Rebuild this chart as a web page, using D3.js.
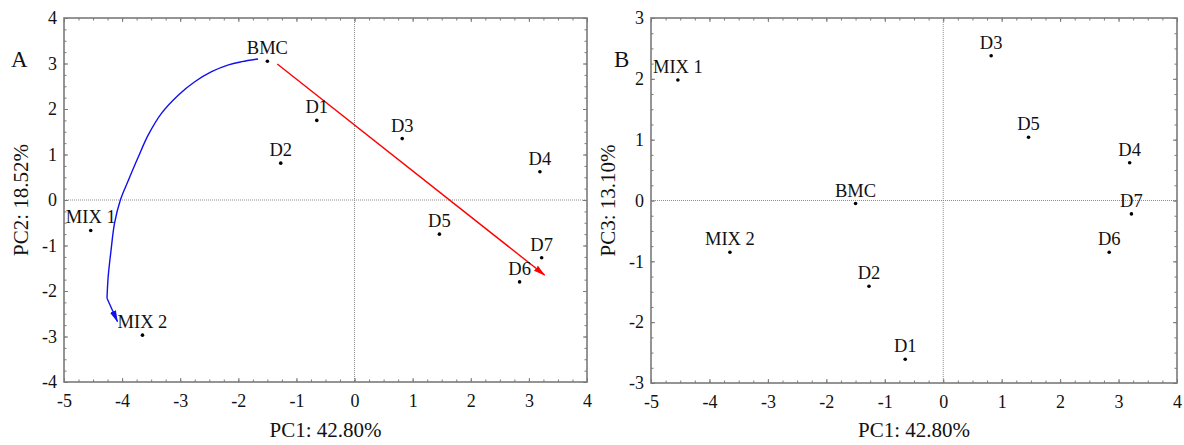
<!DOCTYPE html>
<html>
<head>
<meta charset="utf-8">
<script src="https://cdn.jsdelivr.net/npm/d3@7"></script>
<style>
  body { margin: 0; background: #fff; }
  svg { display: block; font-family: "Liberation Serif", "Times New Roman", serif; }
</style>
</head>
<body>
<script>
// sample names and principal component scores
var names = ["BMC", "D1", "D2", "D3", "D4", "D5", "D6", "D7", "MIX 1", "MIX 2"];
var pc1 = [-1.50, -0.65, -1.27, 0.82, 3.19, 1.46, 2.84, 3.22, -4.54, -3.65];
var pc2 = [3.05, 1.75, 0.81, 1.35, 0.62, -0.75, -1.80, -1.27, -0.67, -2.97];
var pc3 = [-0.05, -2.61, -1.41, 2.38, 0.62, 1.04, -0.85, -0.22, 1.98, -0.85];

// arrows drawn on panel A (in PC1/PC2 units)
var redArrow = [[-1.33, 2.99], [3.27, -1.65]];
var blueCurve = [[-1.66, 3.10], [-1.94, 3.04], [-2.17, 2.97], [-2.46, 2.82], [-2.75, 2.60],
                 [-3.03, 2.31], [-3.32, 1.91], [-3.55, 1.43], [-3.72, 0.95], [-3.89, 0.44],
                 [-4.03, 0.00], [-4.13, -0.51], [-4.19, -1.10], [-4.24, -1.69], [-4.26, -2.16]];
var blueHead = [[-4.26, -2.16], [-4.08, -2.67]];

var xTicks = [-5, -4, -3, -2, -1, 0, 1, 2, 3, 4];
var yTicksA = [-4, -3, -2, -1, 0, 1, 2, 3, 4];
var yTicksB = [-3, -2, -1, 0, 1, 2, 3];

var svg = d3.select("body")
            .append("svg")
            .attr("width", 1184)
            .attr("height", 445);

var defs = svg.append("defs");
function addMarker(id, color){
    defs.append("marker")
        .attr("id", id)
        .attr("viewBox", "0 0 12 8")
        .attr("refX", 11)
        .attr("refY", 4)
        .attr("markerUnits", "userSpaceOnUse")
        .attr("markerWidth", 12)
        .attr("markerHeight", 8)
        .attr("orient", "auto")
        .append("path")
        .attr("d", "M0,0.8 L12,4 L0,7.2 Z")
        .attr("fill", color);
}
addMarker("headRed", "#ff0000");
addMarker("headBlue", "#1010ee");

var frameColor = "#7a7a7a";
var fmt = function(d){ return String(d); };

//draws one scatter panel and returns its scales
function panel(opt){
    var w = opt.right - opt.left;
    var h = opt.bottom - opt.top;

    var x = d3.scaleLinear().domain([-5, 4]).range([0, w]);
    var y = d3.scaleLinear().domain(opt.yDomain).range([h, 0]);

    var g = svg.append("g")
               .attr("transform", "translate(" + opt.left + "," + opt.top + ")");

    //zero lines
    g.append("line")
     .attr("x1", x(0)).attr("x2", x(0))
     .attr("y1", 0).attr("y2", h)
     .attr("stroke", "#8c8c8c").attr("stroke-width", 1)
     .attr("stroke-dasharray", "1,1");
    g.append("line")
     .attr("x1", 0).attr("x2", w)
     .attr("y1", y(0)).attr("y2", y(0))
     .attr("stroke", "#8c8c8c").attr("stroke-width", 1)
     .attr("stroke-dasharray", "1,1");

    var xMinor = d3.range(-5, 4.001, 0.25);
    var yMinor = d3.range(opt.yDomain[0], opt.yDomain[1] + 0.001, 0.25);

    //major axes with labels
    g.append("g").attr("class", "ax")
     .attr("transform", "translate(0," + h + ")")
     .call(d3.axisBottom(x).tickValues(xTicks).tickSize(-4).tickPadding(12).tickFormat(fmt));
    g.append("g").attr("class", "ax")
     .call(d3.axisLeft(y).tickValues(opt.yTicks).tickSize(-4).tickPadding(7).tickFormat(fmt));

    //inner ticks on the other sides and minor ticks
    g.append("g").attr("class", "ax")
     .call(d3.axisTop(x).tickValues(xTicks).tickSize(-4).tickFormat(""));
    g.append("g").attr("class", "ax")
     .attr("transform", "translate(" + w + ",0)")
     .call(d3.axisRight(y).tickValues(opt.yTicks).tickSize(-4).tickFormat(""));
    g.append("g").attr("class", "ax")
     .attr("transform", "translate(0," + h + ")")
     .call(d3.axisBottom(x).tickValues(xMinor).tickSize(-2.5).tickFormat(""));
    g.append("g").attr("class", "ax")
     .call(d3.axisTop(x).tickValues(xMinor).tickSize(-2.5).tickFormat(""));
    g.append("g").attr("class", "ax")
     .call(d3.axisLeft(y).tickValues(yMinor).tickSize(-2.5).tickFormat(""));
    g.append("g").attr("class", "ax")
     .attr("transform", "translate(" + w + ",0)")
     .call(d3.axisRight(y).tickValues(yMinor).tickSize(-2.5).tickFormat(""));

    g.selectAll(".ax .domain").remove();
    g.selectAll(".ax line").attr("stroke", frameColor).attr("stroke-width", 1);
    g.selectAll(".ax text")
     .attr("fill", "#111")
     .attr("font-size", 18)
     .attr("font-family", "Liberation Serif, serif");

    //frame
    g.append("rect")
     .attr("width", w).attr("height", h)
     .attr("fill", "none")
     .attr("stroke", frameColor)
     .attr("stroke-width", 1.6);

    //axis titles
    svg.append("text")
       .attr("x", opt.left + w / 2)
       .attr("y", 437)
       .attr("text-anchor", "middle")
       .attr("font-size", 21)
       .attr("fill", "#111")
       .text("PC1: 42.80%");
    svg.append("text")
       .attr("transform", "translate(" + opt.yTitleX + "," + (opt.top + h / 2) + ") rotate(-90)")
       .attr("text-anchor", "middle")
       .attr("font-size", 21)
       .attr("fill", "#111")
       .text(opt.yTitle);

    //panel letter
    svg.append("text")
       .attr("x", opt.letterX)
       .attr("y", 67)
       .attr("font-size", 23)
       .attr("fill", "#111")
       .text(opt.letter);

    return {g: g, x: x, y: y};
}

function drawPoints(p, ys){
    var data = names.map(function(n, i){ return {name: n, x: pc1[i], y: ys[i]}; });

    p.g.selectAll("circle.pt")
       .data(data)
       .enter()
       .append("circle")
       .attr("class", "pt")
       .attr("cx", function(d){ return p.x(d.x); })
       .attr("cy", function(d){ return p.y(d.y); })
       .attr("r", 1.8)
       .attr("fill", "#000");

    p.g.selectAll("text.lab")
       .data(data)
       .enter()
       .append("text")
       .attr("class", "lab")
       .attr("x", function(d){ return p.x(d.x); })
       .attr("y", function(d){ return p.y(d.y) - 7; })
       .attr("text-anchor", "middle")
       .attr("font-size", 18.5)
       .attr("fill", "#111")
       .text(function(d){ return d.name; });
}

var pA = panel({left: 64, right: 587, top: 18, bottom: 382, yDomain: [-4, 4], yTicks: yTicksA,
                yTitle: "PC2: 18.52%", yTitleX: 28, letter: "A", letterX: 11});
var pB = panel({left: 651, right: 1177, top: 18, bottom: 383, yDomain: [-3, 3], yTicks: yTicksB,
                yTitle: "PC3: 13.10%", yTitleX: 615, letter: "B", letterX: 614});

//arrows on panel A
var lineA = d3.line()
              .x(function(d){ return pA.x(d[0]); })
              .y(function(d){ return pA.y(d[1]); });

pA.g.append("path")
    .attr("d", lineA.curve(d3.curveCatmullRom)(blueCurve))
    .attr("fill", "none")
    .attr("stroke", "#1010ee")
    .attr("stroke-width", 1.4);

pA.g.append("path")
    .attr("d", lineA.curve(d3.curveLinear)(blueHead))
    .attr("fill", "none")
    .attr("stroke", "#1010ee")
    .attr("stroke-width", 1.4)
    .attr("marker-end", "url(#headBlue)");

pA.g.append("path")
    .attr("d", lineA.curve(d3.curveLinear)(redArrow))
    .attr("fill", "none")
    .attr("stroke", "#ff0000")
    .attr("stroke-width", 1.4)
    .attr("marker-end", "url(#headRed)");

drawPoints(pA, pc2);
drawPoints(pB, pc3);
</script>
</body>
</html>
